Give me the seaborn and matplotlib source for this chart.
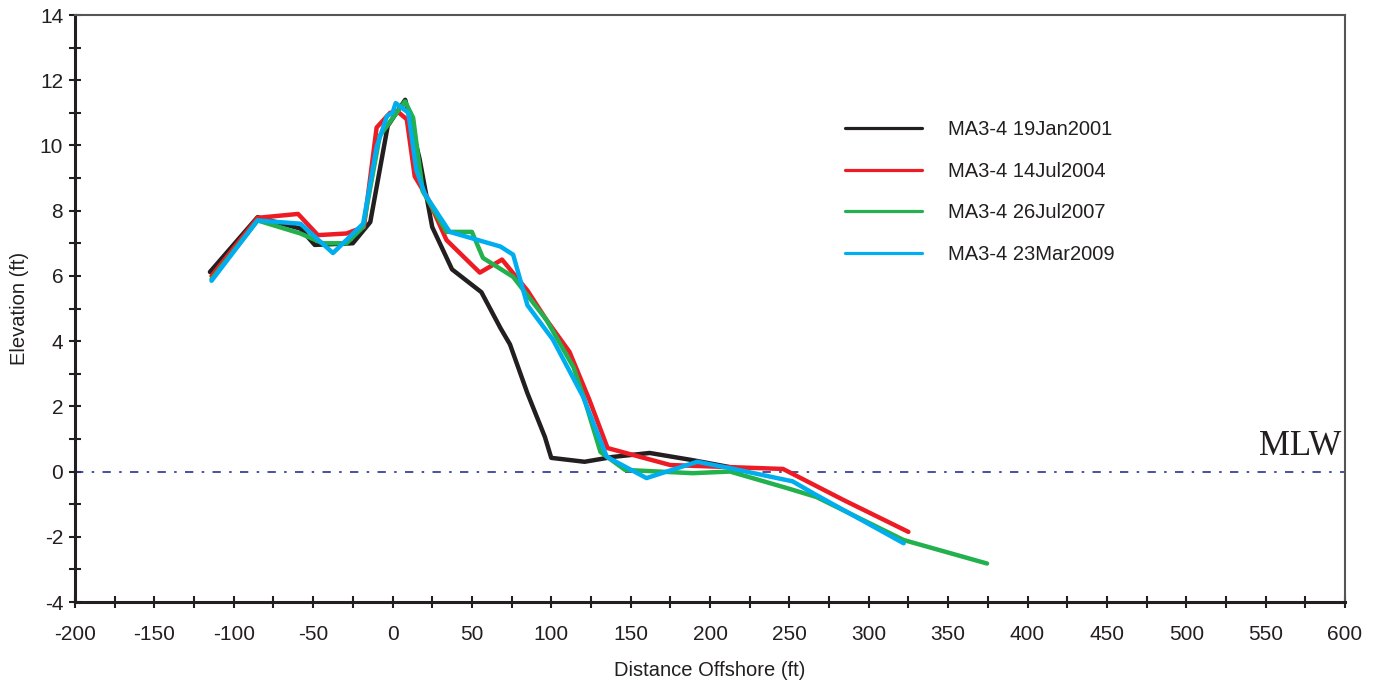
import numpy as np
import pandas as pd
import matplotlib
matplotlib.use("Agg")
import matplotlib.pyplot as plt
from matplotlib.ticker import MultipleLocator
import seaborn as sns

# profile data (distance offshore ft, elevation ft)
x_2001 = [-115, -85, -58, -49, -25, -14, -3, 8, 17, 25, 37.5, 56, 68, 74, 85, 96, 100, 121, 139, 162, 189, 212]
y_2001 = [6.12, 7.8, 7.45, 6.95, 7.0, 7.65, 10.6, 11.4, 9.6, 7.5, 6.2, 5.5, 4.4, 3.9, 2.4, 1.06, 0.42, 0.3, 0.45, 0.57, 0.35, 0.14]

x_2004 = [-114, -85, -59.5, -47, -29, -18, -10, -1.5, 3, 9, 14, 22, 34, 55, 69, 85, 97, 111.5, 124, 135.5, 175, 246, 284, 325]
y_2004 = [6.0, 7.78, 7.9, 7.25, 7.3, 7.5, 10.55, 11.0, 11.05, 10.8, 9.05, 8.4, 7.1, 6.1, 6.5, 5.55, 4.65, 3.67, 2.2, 0.72, 0.2, 0.08, -0.87, -1.85]

x_2007 = [-114, -85, -58, -44, -29, -18.5, -8, 7.9, 13, 19, 34, 50, 57, 76, 97, 114, 121, 131, 146.5, 189, 212.6, 248, 267, 322, 374.5]
y_2007 = [5.9, 7.7, 7.3, 7.0, 7.0, 7.5, 10.3, 11.35, 10.85, 8.6, 7.35, 7.35, 6.55, 5.97, 4.65, 3.2, 2.2, 0.6, 0.05, -0.05, 0.0, -0.5, -0.78, -2.1, -2.82]

x_2009 = [-114, -85, -58, -37.5, -18.5, -10, -3.5, 0, 2, 10, 15, 20.5, 36, 68, 76, 85, 101, 120, 135, 160, 192, 213, 252, 267, 322]
y_2009 = [5.85, 7.7, 7.6, 6.7, 7.6, 9.95, 10.9, 11.0, 11.3, 11.0, 9.25, 8.5, 7.35, 6.9, 6.65, 5.1, 4.05, 2.3, 0.45, -0.2, 0.3, 0.1, -0.3, -0.72, -2.2]

labels = ["MA3-4 19Jan2001", "MA3-4 14Jul2004", "MA3-4 26Jul2007", "MA3-4 23Mar2009"]
colors = ["#231f20", "#ed1c24", "#22b14c", "#00aeef"]

frames = []
for lab, xs, ys in zip(labels, [x_2001, x_2004, x_2007, x_2009], [y_2001, y_2004, y_2007, y_2009]):
    frames.append(pd.DataFrame({"dist": xs, "elev": ys, "survey": lab}))
df = pd.concat(frames, ignore_index=True)

sns.set_style("white")
plt.rcParams["font.family"] = ["Liberation Sans", "DejaVu Sans"]
plt.rcParams["axes.unicode_minus"] = False

fig = plt.figure(figsize=(13.79, 6.85), dpi=100)
ax = fig.add_axes([75 / 1379, 1 - 602 / 685, 1270 / 1379, 587 / 685])

# mean low water reference line
ax.axhline(0, color="#2e3192", lw=1.2, dashes=(5, 5, 1.5, 5), zorder=1)
ax.text(598, 0.25, "MLW", ha="right", va="bottom", fontsize=25,
        family=["Liberation Serif", "DejaVu Serif"], color="#231f20")

sns.lineplot(data=df, x="dist", y="elev", hue="survey", palette=dict(zip(labels, colors)),
             sort=False, estimator=None, lw=3.2, ax=ax, zorder=3)

ax.set_xlim(-200, 600)
ax.set_ylim(-4, 14)
ax.xaxis.set_major_locator(MultipleLocator(50))
ax.xaxis.set_minor_locator(MultipleLocator(25))
ax.yaxis.set_major_locator(MultipleLocator(2))
ax.yaxis.set_minor_locator(MultipleLocator(1))
ax.tick_params(which="both", bottom=True, left=True, direction="inout", length=9, width=1.5,
               color="#231f20", labelsize=15, labelcolor="#231f20")
ax.tick_params(axis="x", pad=12)
ax.tick_params(axis="y", pad=4)

for side in ["left", "bottom"]:
    ax.spines[side].set_linewidth(2.2)
    ax.spines[side].set_color("#231f20")
for side in ["top", "right"]:
    ax.spines[side].set_linewidth(1.5)
    ax.spines[side].set_color("#555555")

ax.set_xlabel("Distance Offshore (ft)", fontsize=14.5, color="#231f20", labelpad=12)
ax.set_ylabel("Elevation (ft)", fontsize=14.5, color="#231f20", labelpad=8)

handles, labs = ax.get_legend_handles_labels()
leg = ax.legend(handles, labs, loc="upper left", bbox_to_anchor=((845 - 75) / 1270, (602 - 120) / 587),
                frameon=False, fontsize=14.5, handlelength=3.8, handletextpad=1.3,
                labelspacing=1.12, borderpad=0, borderaxespad=0)
for line in leg.get_lines():
    line.set_linewidth(2.3)
for t in leg.get_texts():
    t.set_color("#231f20")

fig.savefig("out.png", dpi=100)
